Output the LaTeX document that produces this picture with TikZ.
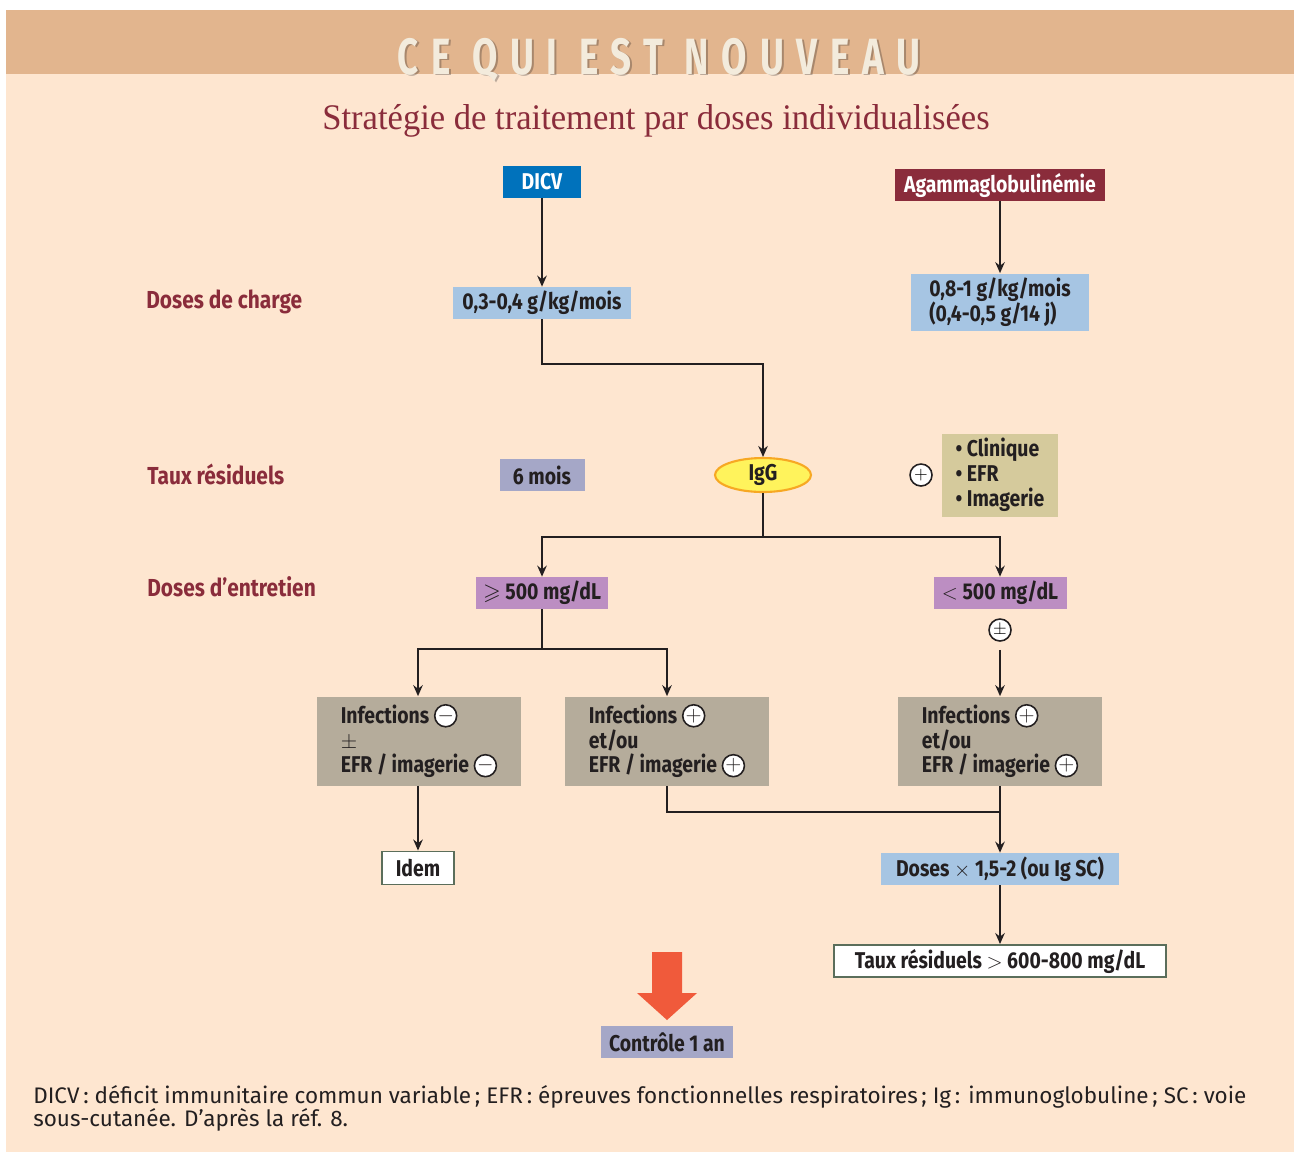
\documentclass[tikz,border=0pt]{standalone}
\usepackage{amssymb}
\usepackage{fontspec}
\setmainfont{Fira Sans}[FakeStretch=0.85]
\newfontfamily\notefont{Fira Sans}
\newfontfamily\titrefont{Liberation Serif}[FakeStretch=0.96]
\newfontfamily\bandeaufont{Fira Sans}[FakeStretch=0.72,LetterSpace=25]
\usetikzlibrary{shapes.geometric,arrows.meta}

\definecolor{peche}{HTML}{FEE6D0}
\definecolor{bandeau}{HTML}{E2B58E}
\definecolor{creme}{HTML}{F3EBDC}
\definecolor{bordeaux}{HTML}{8A2C3B}
\definecolor{bleuroi}{HTML}{0072BC}
\definecolor{bleuclair}{HTML}{A6C5E3}
\definecolor{lavande}{HTML}{A5A7C7}
\definecolor{mauve}{HTML}{BC8EC2}
\definecolor{kaki}{HTML}{D5CA9C}
\definecolor{taupe}{HTML}{B5AC9B}
\definecolor{jaune}{HTML}{FFF35C}
\definecolor{orange}{HTML}{F7A823}
\definecolor{rouge}{HTML}{F05A3B}
\definecolor{noir}{HTML}{231F20}
\definecolor{vertgris}{HTML}{5B6E5B}

\newcommand\rond[1]{\tikz[baseline=-0.6ex]\node[signe]{$#1$};}

\begin{document}
\begin{tikzpicture}[x=0.02cm,y=-0.02cm,
boite/.style={font=\fontsize{13}{14.2}\selectfont\bfseries, text=noir, inner sep=0pt, minimum height=0.64cm},
cadre/.style={boite, draw=vertgris, line width=1.1pt, fill=white},
etiq/.style={font=\fontsize{14}{15}\selectfont\bfseries, text=bordeaux, anchor=west, inner sep=0pt},
trait/.style={line width=1.1pt, draw=noir},
fleche/.style={trait, >={Stealth[length=0.22cm,width=0.19cm]}, ->},
signe/.style={circle, draw=noir, fill=white, line width=0.9pt, inner sep=0pt, minimum size=0.44cm, font=\normalfont}]
\useasboundingbox (0,0) rectangle (1294,1154);
% fond
\fill[white] (0,0) rectangle (1294,1154);
\fill[peche] (6,10) rectangle (1294,1152);
\fill[bandeau] (6,10) rectangle (1294,74);
\node[anchor=base, text=noir, opacity=0.3, font=\bandeaufont\bfseries\fontsize{29}{30}\selectfont] (ombre) at (661,75) {CE QUI EST NOUVEAU};
\node[anchor=base, text=creme, font=\bandeaufont\bfseries\fontsize{29}{30}\selectfont] (bandeau) at (659,74) {CE QUI EST NOUVEAU};
\node[anchor=base, text=bordeaux, font=\titrefont\fontsize{20.5}{22}\selectfont] (titre) at (656,129) {Stratégie de traitement par doses individualisées};

% etiquettes de gauche
\node[etiq] (charge) at (146,302) {Doses de charge};
\node[etiq] (residuels) at (147,474) {Taux résiduels};
\node[etiq] (entretien) at (147,587) {Doses d’entretien};

% noeuds
\node[boite, fill=bleuroi, text=white, minimum width=1.56cm] (dicv) at (542,182) {DICV};
\node[boite, fill=bordeaux, text=white, minimum width=4.2cm] (agam) at (1000,185) {Agammaglobulinémie};
\node[boite, fill=bleuclair, minimum width=3.58cm] (dose1) at (542,303) {0,3-0,4 g/kg/mois};
\node[boite, fill=bleuclair, minimum width=3.58cm, minimum height=1.14cm, align=left] (dose2) at (1000,302) {0,8-1 g/kg/mois\\(0,4-0,5 g/14 j)};
\node[boite, fill=lavande, minimum width=1.7cm] (mois) at (542,475) {6 mois};
\node[boite, ellipse, fill=jaune, draw=orange, line width=1.2pt, minimum width=1.92cm, minimum height=0.68cm] (igg) at (763,475) {IgG};
\node[signe] (plus) at (921,475) {$+$};
\node[boite, fill=kaki, minimum width=2.32cm, minimum height=1.66cm, align=left] (clinique) at (1000,475) {\textbullet\ Clinique\\\textbullet\ EFR\\\textbullet\ Imagerie};
\node[boite, fill=mauve, minimum width=2.66cm] (sup) at (542,593) {$\geqslant$ 500 mg/dL};
\node[boite, fill=mauve, minimum width=2.66cm] (inf) at (1000,593) {$<$ 500 mg/dL};
\node[signe] (pm) at (1000,630) {$\pm$};
\node[boite, fill=taupe, minimum width=4.08cm, minimum height=1.78cm, align=left] (infa) at (419,741) {Infections \rond{-}\\$\pm$\\EFR / imagerie \rond{-}};
\node[boite, fill=taupe, minimum width=4.08cm, minimum height=1.78cm, align=left] (infb) at (667,741) {Infections \rond{+}\\et/ou\\EFR / imagerie \rond{+}};
\node[boite, fill=taupe, minimum width=4.08cm, minimum height=1.78cm, align=left] (infc) at (1000,741) {Infections \rond{+}\\et/ou\\EFR / imagerie \rond{+}};
\node[cadre, minimum width=1.44cm, minimum height=0.66cm] (idem) at (418,868) {Idem};
\node[boite, fill=bleuclair, minimum width=4.78cm] (doses) at (1000,869) {Doses $\times$ 1,5-2 (ou Ig SC)};
\node[cadre, minimum width=6.64cm] (taux) at (1000,961) {Taux résiduels $>$ 600-800 mg/dL};
\node[boite, fill=lavande, minimum width=2.66cm] (controle) at (667,1042) {Contrôle 1 an};

% grosse fleche rouge
\fill[rouge] (652,952) -- (682,952) -- (682,993) -- (697,993) -- (667,1020) -- (637,993) -- (652,993) -- cycle;

% liaisons
\draw[fleche] (dicv) -- (dose1);
\draw[fleche] (agam) -- (dose2);
\draw[fleche] (dose1.south) -- ++(0,45) -| (igg.north);
\draw[trait] (igg.south) -- ++(0,44) coordinate (bif1);
\draw[fleche] (bif1) -| (sup.north);
\draw[fleche] (bif1) -| (inf.north);
\draw[trait] (sup.south) -- ++(0,40) coordinate (bif2);
\draw[fleche] (bif2) -| (infa.north west -| idem.north);
\draw[fleche] (bif2) -| (infb.north);
\draw[fleche, shorten <=0.16cm] (pm.south) -- (infc.north);
\draw[fleche] (infa.south -| idem.north) -- (idem.north);
\draw[trait] (infb.south) -- ++(0,26) -| (infc.south);
\draw[fleche] (infc.south) -- (doses.north);
\draw[fleche] (doses) -- (taux);

% note
\node[anchor=north west, inner sep=0pt, align=left, text=noir, font=\notefont\fontsize{12.8}{13.4}\selectfont] (note) at (33,1085) {DICV\,: déficit immunitaire commun variable\,; EFR\,: épreuves fonctionnelles respiratoires\,; Ig\,: immunoglobuline\,; SC\,: voie\\sous-cutanée. D’après la réf. 8.};
\end{tikzpicture}
\end{document}
